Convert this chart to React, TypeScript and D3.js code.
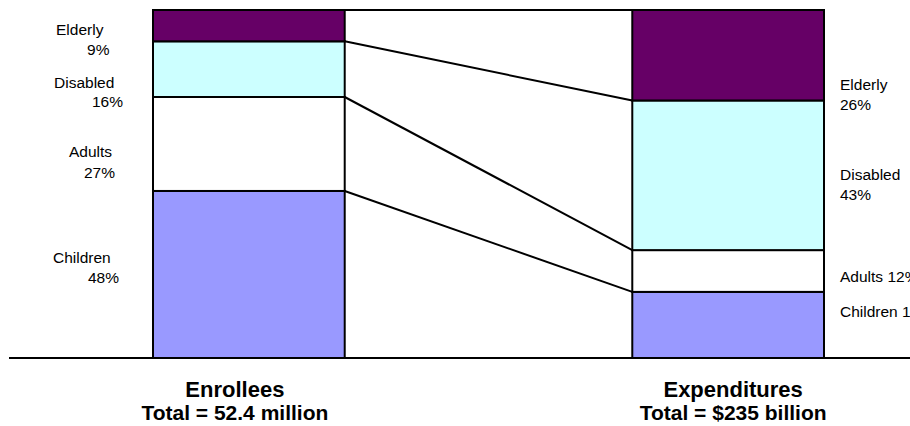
import React from 'react';
import { scaleBand, scaleLinear } from 'd3';

// groups, bottom to top
const groups = ['Children', 'Adults', 'Disabled', 'Elderly'];
const colors = ['#9999FF', '#FFFFFF', '#CCFFFF', '#660066'];
const columns = ['Enrollees', 'Expenditures'];
const totals = ['Total = 52.4 million', 'Total = $235 billion'];
const enrollees = [48, 27, 16, 9];
const expenditures = [19, 12, 43, 26];

const W = 910;
const H = 426;
const baseY = 358;
const topY = 10;

// where each label's text boxes sit (left column labels are free text boxes)
const leftLabelPos = [
  { nx: 53, px: 88, ny: 263, py: 283 },
  { nx: 69, px: 84, ny: 157, py: 178 },
  { nx: 54, px: 92, ny: 88, py: 107 },
  { nx: 56, px: 87, ny: 35, py: 55 },
];
const rightLabelY = [
  { ny: 317, py: null },
  { ny: 282, py: null },
  { ny: 180, py: 200 },
  { ny: 90, py: 110 },
];

function stack(vals: number[]) {
  let acc = 0;
  return vals.map((v) => {
    const s = { y0: acc, y1: acc + v, v };
    acc += v;
    return s;
  });
}

export default function App() {
  const x = scaleBand().domain(columns).range([153, 824]).paddingInner(0.6).paddingOuter(0);
  const y = scaleLinear().domain([0, 100]).range([baseY, topY]);
  const bw = x.bandwidth();
  const series = [stack(enrollees), stack(expenditures)];

  const leftX = x(columns[0])! + bw;
  const rightX = x(columns[1])!;

  return (
    <svg width={W} height={H} style={{ position: 'absolute', left: 0, top: 0, background: '#fff' }}
      fontFamily="'Liberation Sans', Arial, sans-serif">
      {series.map((s, ci) => (
        <g key={columns[ci]}>
          {s.map((d, gi) => (
            <rect key={groups[gi]} x={x(columns[ci])} y={y(d.y1)} width={bw} height={y(d.y0) - y(d.y1)}
              fill={colors[gi]} stroke="#000" strokeWidth={2} />
          ))}
        </g>
      ))}

      {/* connectors between the boundaries */}
      {series[0].map((d, gi) => (
        <line key={gi} x1={leftX} x2={rightX} y1={y(d.y1)} y2={y(series[1][gi].y1)}
          stroke="#000" strokeWidth={2} />
      ))}

      <line x1={9} x2={W} y1={baseY} y2={baseY} stroke="#000" strokeWidth={2} />

      {groups.map((g, gi) => {
        const p = leftLabelPos[gi];
        return (
          <g key={'l' + g} fontSize={15.5} fill="#000">
            <text x={p.nx} y={p.ny}>{g}</text>
            <text x={p.px} y={p.py}>{enrollees[gi]}%</text>
          </g>
        );
      })}

      {groups.map((g, gi) => {
        const p = rightLabelY[gi];
        const lx = x(columns[1])! + bw + 16;
        return (
          <g key={'r' + g} fontSize={15.5} fill="#000">
            {p.py === null ? (
              <text x={lx} y={p.ny}>{g} {expenditures[gi]}%</text>
            ) : (
              <>
                <text x={lx} y={p.ny}>{g}</text>
                <text x={lx} y={p.py}>{expenditures[gi]}%</text>
              </>
            )}
          </g>
        );
      })}

      {columns.map((c, ci) => {
        const cx = x(c)! + bw / 2 + (ci === 0 ? -14 : 5);
        return (
          <g key={'t' + c} textAnchor="middle" fontWeight="bold" fill="#000">
            <text x={cx} y={397} fontSize={22}>{c}</text>
            <text x={cx} y={420} fontSize={21}>{totals[ci]}</text>
          </g>
        );
      })}
    </svg>
  );
}
